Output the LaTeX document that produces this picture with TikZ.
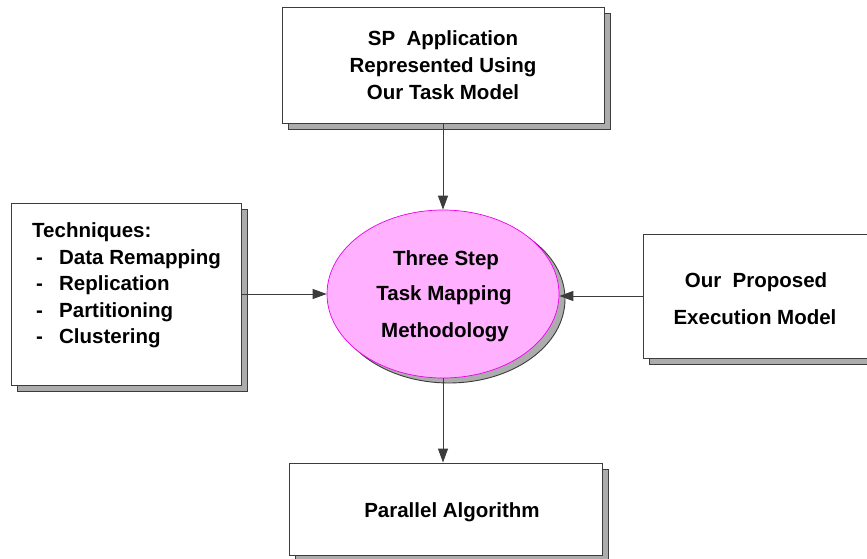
\documentclass[tikz,border=0pt]{standalone}
\usepackage{fontspec}
\setmainfont{Liberation Sans}
\usetikzlibrary{shapes.geometric,shadows,arrows.meta}
\definecolor{shadowgray}{RGB}{172,172,172}
\definecolor{linegray}{RGB}{60,60,60}
\definecolor{pinkfill}{RGB}{255,176,255}
\definecolor{pinkline}{RGB}{235,0,235}
\tikzset{
  box/.style={draw=linegray, line width=0.9pt, fill=white, rectangle, inner sep=0pt,
    general shadow={shadow xshift=6pt, shadow yshift=-6pt, fill=shadowgray, draw=linegray, line width=0.9pt}},
  oval/.style={ellipse, draw=pinkline, line width=0.7pt, fill=pinkfill, inner sep=0pt,
    general shadow={shadow xshift=6pt, shadow yshift=-5pt, fill=shadowgray, draw=linegray, line width=0.9pt}},
  txt/.style={font=\fontsize{20.5}{24}\selectfont\bfseries, inner sep=0pt, anchor=base},
  ltxt/.style={txt, anchor=base west},
  conn/.style={draw=linegray, line width=0.9pt, -{Triangle[length=14pt,width=10pt]}}
}
\begin{document}
\begin{tikzpicture}[x=1pt,y=-1pt]
\clip (0,0) rectangle (867,559);
\fill[white] (0,0) rectangle (867,559);
% boxes
\node[box, minimum width=322pt, minimum height=116pt] (top) at (443,65) {};
\node[box, minimum width=230pt, minimum height=182pt] (left) at (126,294) {};
\node[oval, minimum width=232pt, minimum height=168pt] (ell) at (443,294) {};
\node[box, minimum width=242pt, minimum height=124pt] (right) at (764,296) {};
\node[box, minimum width=313pt, minimum height=92pt] (bot) at (445.5,509) {};
% texts
\node[txt] (t1) at (443,46) {SP\ \ Application};
\node[txt] (t2) at (443,73) {Represented Using};
\node[txt] (t3) at (443,99.5) {Our Task Model};
\node[ltxt] (l1) at (32,237) {Techniques:};
\node[ltxt] (l2) at (36,264) {\makebox[23pt][l]{-}Data Remapping};
\node[ltxt] (l3) at (36,290) {\makebox[23pt][l]{-}Replication};
\node[ltxt] (l4) at (36,317) {\makebox[23pt][l]{-}Partitioning};
\node[ltxt] (l5) at (36,343) {\makebox[23pt][l]{-}Clustering};
\node[txt] (e1) at (446,265) {Three Step};
\node[txt] (e2) at (444,300) {Task Mapping};
\node[txt] (e3) at (445,337) {Methodology};
\node[txt] (r1) at (756,287) {Our\ \ Proposed};
\node[txt] (r2) at (755,324) {Execution Model};
\node[txt] (b1) at (452,517) {Parallel Algorithm};
% connectors
\draw[conn] (top.south) -- (ell.north);
\draw[conn] (left.east) -- (ell.west);
\draw[conn] (right.west) -- (right.west -| ell.east);
\draw[conn] (ell.south) -- (ell.south |- bot.north);
\end{tikzpicture}
\end{document}
